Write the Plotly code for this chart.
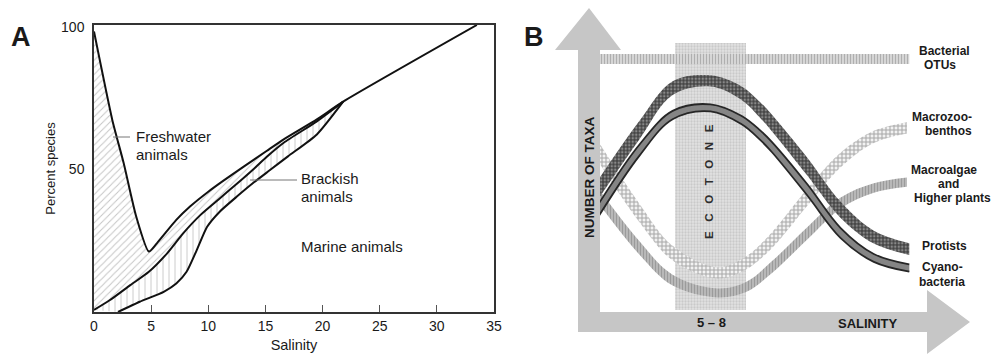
import numpy as np
import plotly.graph_objects as go

# ---------------- Panel A: share of species vs salinity ----------------
SAL_TICKS = [0, 5, 10, 15, 20, 25, 30, 35]
PCT_TICKS = [50, 100]

# upper boundary of the freshwater species share
FRESH_TOP_X = [0, 1.6, 2.6, 3.7, 4.8, 5.5, 7.2, 8.4, 10.0, 11.3, 13.1, 15.1, 16.6, 19.5, 21.8, 33.5]
FRESH_TOP_Y = [98.4, 67.4, 52.2, 33.4, 21.2, 24.1, 32.3, 37.0, 42.2, 46.0, 51.0, 56.5, 60.6, 67.6, 73.8, 100.7]
# boundary between freshwater and brackish species
FRESH_BRACK_X = [0, 1.4, 3.2, 4.8, 6.4, 7.8, 9.3, 10.9, 12.5, 14.0, 15.1, 16.6, 19.5, 21.8]
FRESH_BRACK_Y = [0.7, 4.2, 9.5, 14.1, 20.6, 27.6, 34.0, 39.5, 45.0, 50.3, 54.4, 59.4, 66.9, 73.8]
# boundary between brackish and marine species
BRACK_MARINE_X = [2.1, 4.0, 6.1, 7.2, 8.1, 9.0, 9.9, 11.0, 12.5, 14.0, 15.4, 17.0, 19.5, 21.8]
BRACK_MARINE_Y = [0, 3.6, 7.1, 10.0, 14.1, 21.8, 29.9, 35.2, 40.5, 45.5, 49.8, 54.7, 62.3, 73.8]

# ---------------- Panel B: schematic number of taxa ----------------
ECOTONE_SAL = [5, 8]
ECOTONE_LABEL = "5 \u2013 8"
TAXA_SPAN = [0, 100]

BACT_X = [1.8, 14.9]
BACT_Y = [94, 94]
PROT_X = [1.8, 3.5, 4.9, 6.5, 7.8, 8.6, 9.1, 10.6, 12.0, 13.4, 14.9]
PROT_Y = [45.7, 67.4, 83.1, 85.8, 81.3, 74.9, 70.0, 53.6, 37.5, 27.3, 22.8]
CYANO_X = PROT_X
CYANO_Y = [37.8, 59.9, 73.0, 75.7, 71.2, 65.5, 61.0, 44.9, 28.8, 19.5, 15.7]
ZOO_X = [1.8, 3.5, 4.9, 6.8, 8.0, 9.1, 10.6, 12.0, 13.4, 14.8]
ZOO_Y = [58.8, 36.3, 21.3, 13.9, 17.6, 26.2, 42.3, 56.2, 64.8, 68.2]
ALGAE_X = ZOO_X
ALGAE_Y = [42.3, 23.2, 11.2, 6.4, 8.6, 16.1, 28.8, 40.1, 45.7, 47.9]

W, H = 992, 354
FONT = "Liberation Sans, Arial, Helvetica, sans-serif"
INK = "#1a1a1a"


def px(x):
    return x / W


def py(y):
    return 1 - y / H


# panel B frame: the ecotone (salinity 5-8) sits between these pixel columns,
# taxa 0..100 between these pixel rows
B_LEFT = 540
ECO_PX = (675, 746)
TAXA_PX = (310, 43)
SX = (ECO_PX[1] - ECO_PX[0]) / (ECOTONE_SAL[1] - ECOTONE_SAL[0])
SY = (TAXA_PX[0] - TAXA_PX[1]) / (TAXA_SPAN[1] - TAXA_SPAN[0])
XB_RANGE = [ECOTONE_SAL[0] + (B_LEFT - ECO_PX[0]) / SX, ECOTONE_SAL[0] + (W - ECO_PX[0]) / SX]
YB_RANGE = [-(H - TAXA_PX[0]) / SY, TAXA_PX[0] / SY]

fig = go.Figure()

# ---- panel A traces ----
LINE_A = dict(color="#111111", width=2, shape="spline", smoothing=0.6)
fig.add_trace(go.Scatter(x=BRACK_MARINE_X, y=BRACK_MARINE_Y, mode="lines", line=LINE_A,
                         hoverinfo="skip", showlegend=False))
fig.add_trace(go.Scatter(x=FRESH_BRACK_X, y=FRESH_BRACK_Y, mode="lines", line=LINE_A,
                         fill="tonexty",
                         fillpattern=dict(shape="|", fgcolor="#8c8c8c", bgcolor="white",
                                          size=6, solidity=0.15),
                         hoverinfo="skip", showlegend=False))
fig.add_trace(go.Scatter(x=FRESH_TOP_X, y=FRESH_TOP_Y, mode="lines", line=LINE_A,
                         fill="tonexty",
                         fillpattern=dict(shape="/", fgcolor="#8c8c8c", bgcolor="white",
                                          size=5, solidity=0.2),
                         hoverinfo="skip", showlegend=False))

# ---- panel B traces ----
fig.add_trace(go.Scatter(
    x=[ECOTONE_SAL[0], ECOTONE_SAL[0], ECOTONE_SAL[1], ECOTONE_SAL[1], ECOTONE_SAL[0]],
    y=[TAXA_SPAN[0], TAXA_SPAN[1], TAXA_SPAN[1], TAXA_SPAN[0], TAXA_SPAN[0]],
    mode="lines", line=dict(width=0), fill="toself",
    fillpattern=dict(shape=".", fgcolor="#b0b0b0", bgcolor="#e2e2e2", size=3, solidity=0.45),
    xaxis="x2", yaxis="y2", hoverinfo="skip", showlegend=False))


def band_edges(xs, ys, half_px):
    """Lower/upper edges of a band of constant on-screen thickness around a curve."""
    x = np.asarray(xs, float)
    y = np.asarray(ys, float)
    slope = np.gradient(y * SY, x * SX)
    dv = half_px * np.sqrt(1 + slope ** 2) / SY
    return y - dv, y + dv


def add_band(xs, ys, half_px, pattern=None, fillcolor=None, edge_color=None, edge_w=0):
    lo, hi = band_edges(xs, ys, half_px)
    edge = dict(shape="spline", smoothing=1.0, width=edge_w,
                color=edge_color if edge_color else "rgba(0,0,0,0)")
    fig.add_trace(go.Scatter(x=xs, y=lo, mode="lines", line=edge, xaxis="x2", yaxis="y2",
                             hoverinfo="skip", showlegend=False))
    kw = dict(fill="tonexty")
    if pattern:
        kw["fillpattern"] = pattern
    if fillcolor:
        kw["fillcolor"] = fillcolor
    fig.add_trace(go.Scatter(x=xs, y=hi, mode="lines", line=edge, xaxis="x2", yaxis="y2",
                             hoverinfo="skip", showlegend=False, **kw))


add_band(BACT_X, BACT_Y, 5,
         pattern=dict(shape="|", fgcolor="#808080", bgcolor="#dedede", size=3, solidity=0.45))
add_band(ALGAE_X, ALGAE_Y, 4.5,
         pattern=dict(shape="|", fgcolor="#7a7a7a", bgcolor="#bdbdbd", size=3, solidity=0.45))
add_band(ZOO_X, ZOO_Y, 5.5,
         pattern=dict(shape="+", fgcolor="#5e5e5e", bgcolor="#f2f2f2", size=4, solidity=0.45))
add_band(CYANO_X, CYANO_Y, 3.5, fillcolor="#858585", edge_color="#262626", edge_w=1.8)
add_band(PROT_X, PROT_Y, 5.5,
         pattern=dict(shape=".", fgcolor="#cccccc", bgcolor="#454545", size=3.5, solidity=0.4))

# ---- arrows of panel B ----
ARROW = "#c6c6c6"


def poly(points):
    return "M " + " L ".join(f"{px(a):.5f},{py(b):.5f}" for a, b in points) + " Z"


shapes = [
    dict(type="path", xref="paper", yref="paper", layer="above", line=dict(width=0),
         fillcolor=ARROW,
         path=poly([(578, 332), (578, 50), (555, 50), (589, 8), (621, 50), (600, 50), (600, 332)])),
    dict(type="path", xref="paper", yref="paper", layer="above", line=dict(width=0),
         fillcolor=ARROW,
         path=poly([(578, 312), (927, 312), (927, 290), (970, 322), (927, 354), (927, 332), (578, 332)])),
    # pointer lines of panel A
    dict(type="line", xref="paper", yref="paper", x0=px(113), x1=px(130), y0=py(137), y1=py(137),
         line=dict(color="#777777", width=1)),
    dict(type="line", xref="paper", yref="paper", x0=px(250), x1=px(297), y0=py(180), y1=py(180),
         line=dict(color="#777777", width=1)),
]

annotations = []


def note(text, x, y, size, bold=False, xanchor="center", angle=0, color=INK):
    annotations.append(dict(
        text=f"<b>{text}</b>" if bold else text, x=px(x), y=py(y), xref="paper", yref="paper",
        xanchor=xanchor, yanchor="middle", showarrow=False, textangle=angle,
        font=dict(family=FONT, size=size, color=color)))


note("A", 21, 37, 27, bold=True)
note("B", 534, 37, 27, bold=True)

note("Freshwater", 134, 137, 15, xanchor="left")
note("animals", 134, 154, 15, xanchor="left")
note("Brackish", 299, 179, 15, xanchor="left")
note("animals", 299, 196, 15, xanchor="left")
note("Marine animals", 299, 247, 15, xanchor="left")

note("Bacterial", 944, 51, 12, bold=True)
note("OTUs", 940, 65, 12, bold=True)
note("Macrozoo-", 942, 117, 12, bold=True)
note("benthos", 948, 131, 12, bold=True)
note("Macroalgae", 944, 170, 12, bold=True)
note("and", 948, 184, 12, bold=True)
note("Higher plants", 952, 198, 12, bold=True)
note("Protists", 944, 246, 12, bold=True)
note("Cyano-", 942, 267, 12, bold=True)
note("bacteria", 942, 282, 12, bold=True)

note("NUMBER OF TAXA", 589, 178, 13.5, bold=True, angle=-90)
note("\u2002\u2004".join("ECOTONE"), 709, 182, 11.5, bold=True, angle=-90, color="#2e2e2e")
note(ECOTONE_LABEL, 711, 322, 13, bold=True)
note("SALINITY", 868, 323, 13, bold=True)

fig.update_layout(
    width=W, height=H,
    margin=dict(l=0, r=0, t=0, b=0),
    paper_bgcolor="white", plot_bgcolor="rgba(0,0,0,0)",
    font=dict(family=FONT, color=INK),
    showlegend=False,
    xaxis=dict(domain=[px(94), px(494)], range=[0, 35], tickvals=SAL_TICKS,
               ticks="inside", ticklen=7, tickcolor="#555555", tickwidth=1,
               showline=True, mirror=True, linecolor="#333333", linewidth=1.5,
               showgrid=False, zeroline=False, automargin=False, anchor="y",
               tickfont=dict(size=14, color=INK),
               title=dict(text="Salinity", standoff=7, font=dict(size=14.5, color=INK))),
    yaxis=dict(domain=[py(312), py(25)], range=[0, 100.7], tickvals=PCT_TICKS,
               ticks="", showline=True, mirror=True, linecolor="#333333", linewidth=1.5,
               showgrid=False, zeroline=False, automargin=False, anchor="x",
               ticklabelstandoff=5,
               tickfont=dict(size=14, color=INK),
               title=dict(text="Percent species", standoff=3, font=dict(size=13, color=INK))),
    xaxis2=dict(domain=[px(B_LEFT), 1], range=XB_RANGE, visible=False, anchor="y2"),
    yaxis2=dict(domain=[0, 1], range=YB_RANGE, visible=False, anchor="x2"),
    shapes=shapes,
    annotations=annotations,
)

fig.write_html("out.html")
